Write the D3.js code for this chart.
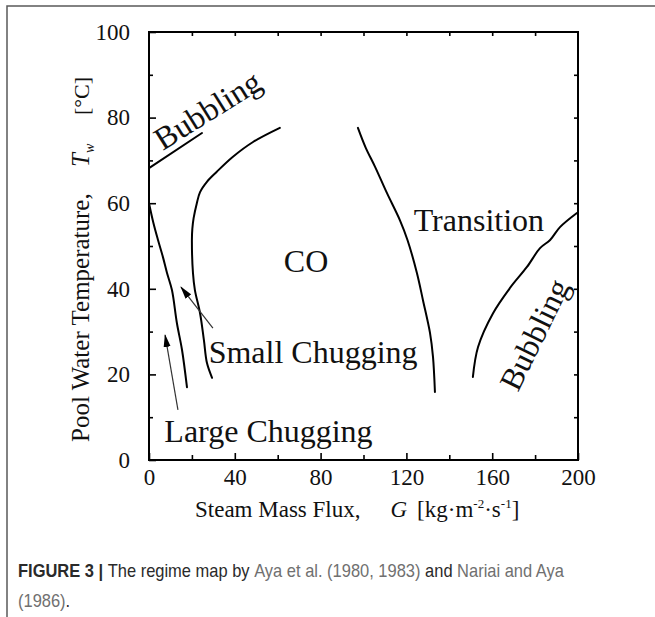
<!DOCTYPE html>
<html>
<head>
<meta charset="utf-8">
<script src="https://cdn.jsdelivr.net/npm/d3@7/dist/d3.min.js"></script>
<style>
  body { margin: 0; background: #fff; }
</style>
</head>
<body>
<div id="chart"></div>
<script>
// tick values
var xTicks = [0, 40, 80, 120, 160, 200];
var yTicks = [0, 20, 40, 60, 80, 100];

// regime boundaries, [G, Tw]
var bubblingLow = [[0, 68.2], [24.7, 76.4]];
var chugBoundary = [[0, 60], [2, 55.5], [4.2, 51.4], [6.5, 47.4], [8.4, 43.7], [10.7, 39.7],
    [13, 32], [15.4, 25.7], [17.7, 17]];
var coBoundary = [[29.4, 19.2], [27, 22.7], [25.6, 28], [23.8, 34.3], [21.4, 39.7], [20.5, 43.7],
    [20, 51.4], [20.2, 54], [20.8, 56.5], [22.3, 60], [23.8, 62.6], [27, 65], [31.5, 67.3],
    [39, 70.8], [48.5, 74.3], [61, 77.6]];
var transBoundary = [[97.4, 77.6], [101, 73], [105.4, 68.5], [110.9, 62.4], [117, 56],
    [120.5, 51.4], [124.9, 43.7], [127.7, 37.4], [131, 29.7], [132.4, 24.1], [133.3, 15.9]];
var bubblingHigh = [[151, 19.4], [153.4, 26.4], [160.4, 34.3], [168.3, 40.2], [176.2, 45.1],
    [182.3, 49.5], [187, 51.4], [191.6, 54.4], [199.5, 57.7]];

// arrows pointing at the chugging bands
var arrows = [
    {from: [13.5, 11.7], to: [7.5, 29.2]},
    {from: [29.8, 30.8], to: [14.9, 40.4]}
];

// regime names
var labels = [
    {text: "Bubbling", g: 30.0, t: 79.6, angle: -32},
    {text: "CO", g: 73.2, t: 43.9, angle: 0},
    {text: "Transition", g: 153.8, t: 53.5, angle: 0},
    {text: "Small Chugging", g: 76.5, t: 22.7, angle: 0},
    {text: "Large Chugging", g: 55.7, t: 4.2, angle: 0},
    {text: "Bubbling", g: 184.2, t: 28.2, angle: -64}
];

var width = 655,
    height = 617;

var serif = "'Liberation Serif', 'Times New Roman', serif",
    sans = "'Liberation Sans', Arial, sans-serif";

var svg = d3.select("#chart")
    .append("svg")
    .attr("width", width)
    .attr("height", height);

// outer figure box
svg.append("path")
    .attr("d", "M7,617V6H655")
    .attr("fill", "none")
    .attr("stroke", "#5a5a5a")
    .attr("stroke-width", 1.5);

var x = d3.scaleLinear().domain([0, 200]).range([149, 578]);
var y = d3.scaleLinear().domain([0, 100]).range([460, 32]);

// minor ticks
svg.append("g")
    .attr("transform", "translate(149,0)")
    .call(d3.axisLeft(y).tickValues(d3.range(10, 100, 20)).tickSize(-4).tickFormat(""));
svg.append("g")
    .attr("transform", "translate(0,460)")
    .call(d3.axisBottom(x).tickValues(d3.range(20, 200, 40)).tickSize(-5).tickFormat(""));
svg.append("g")
    .attr("transform", "translate(0,32)")
    .call(d3.axisTop(x).tickValues(d3.range(20, 200, 20)).tickSize(-4).tickFormat(""));
svg.append("g")
    .attr("transform", "translate(578,0)")
    .call(d3.axisRight(y).tickValues(d3.range(10, 100, 10)).tickSize(-4).tickFormat(""));

// major ticks with labels
var yAxis = svg.append("g")
    .attr("transform", "translate(149,0)")
    .call(d3.axisLeft(y).tickValues(yTicks).tickSizeInner(-7).tickSizeOuter(0).tickPadding(19));
var xAxis = svg.append("g")
    .attr("transform", "translate(0,460)")
    .call(d3.axisBottom(x).tickValues(xTicks).tickSizeInner(-7).tickSizeOuter(0).tickPadding(9));

svg.selectAll(".domain").remove();
svg.selectAll(".tick line").attr("stroke", "#000").attr("stroke-width", 1.6);
[xAxis, yAxis].forEach(function(a) {
    a.selectAll("text")
        .attr("font-family", serif)
        .attr("font-size", 23)
        .attr("fill", "#111");
});

// frame
svg.append("rect")
    .attr("x", x(0))
    .attr("y", y(100))
    .attr("width", x(200) - x(0))
    .attr("height", y(0) - y(100))
    .attr("fill", "none")
    .attr("stroke", "#000")
    .attr("stroke-width", 2);

// boundary curves
var line = d3.line()
    .x(function(d) { return x(d[0]); })
    .y(function(d) { return y(d[1]); })
    .curve(d3.curveCatmullRom);

[bubblingLow, chugBoundary, coBoundary, transBoundary, bubblingHigh].forEach(function(pts) {
    svg.append("path")
        .datum(pts)
        .attr("d", line)
        .attr("fill", "none")
        .attr("stroke", "#000")
        .attr("stroke-width", 2)
        .attr("stroke-linejoin", "round")
        .attr("stroke-linecap", "round");
});

// arrows
svg.append("defs").append("marker")
    .attr("id", "head")
    .attr("markerUnits", "userSpaceOnUse")
    .attr("viewBox", "0 -4 13 8")
    .attr("refX", 12)
    .attr("refY", 0)
    .attr("markerWidth", 13)
    .attr("markerHeight", 8)
    .attr("orient", "auto")
    .append("path")
    .attr("d", "M0,-3.5L13,0L0,3.5Z")
    .attr("fill", "#000");

svg.selectAll(".arrow")
    .data(arrows)
    .enter().append("line")
    .attr("class", "arrow")
    .attr("x1", function(d) { return x(d.from[0]); })
    .attr("y1", function(d) { return y(d.from[1]); })
    .attr("x2", function(d) { return x(d.to[0]); })
    .attr("y2", function(d) { return y(d.to[1]); })
    .attr("stroke", "#333")
    .attr("stroke-width", 1.2)
    .attr("marker-end", "url(#head)");

// regime labels
svg.selectAll(".regime")
    .data(labels)
    .enter().append("text")
    .attr("class", "regime")
    .attr("transform", function(d) {
        return "translate(" + x(d.g) + "," + y(d.t) + ") rotate(" + d.angle + ")";
    })
    .attr("text-anchor", "middle")
    .attr("font-family", serif)
    .attr("font-size", 32)
    .attr("fill", "#111")
    .text(function(d) { return d.text; });

// x axis title
var xt = svg.append("text")
    .attr("x", 195)
    .attr("y", 517)
    .attr("font-family", serif)
    .attr("font-size", 23)
    .attr("fill", "#111");
xt.append("tspan").text("Steam Mass Flux,");
xt.append("tspan").attr("dx", 30).attr("font-style", "italic").text("G");
xt.append("tspan").attr("dx", 10).text("[kg·m");
xt.append("tspan").attr("dy", -9).attr("font-size", 13).text("-2");
xt.append("tspan").attr("dy", 9).text("·s");
xt.append("tspan").attr("dy", -9).attr("font-size", 13).text("-1");
xt.append("tspan").attr("dy", 9).text("]");

// y axis title
var yt = svg.append("g")
    .attr("transform", "translate(89,442) rotate(-90)")
    .attr("font-family", serif)
    .attr("fill", "#111");
yt.append("text").attr("x", 0).attr("font-size", 25).text("Pool Water Temperature,");
var tw = yt.append("text").attr("x", 275).attr("font-size", 25).attr("font-style", "italic");
tw.append("tspan").text("T");
tw.append("tspan").attr("dy", 5).attr("font-size", 14).text("w");
yt.append("text").attr("x", 327).attr("font-size", 22).text("[°C]");

// caption, set in a narrowed sans to match the journal face
var capG = svg.append("g")
    .attr("transform", "translate(18,0) scale(0.915,1)")
    .attr("font-family", sans)
    .attr("font-size", 18)
    .attr("fill", "#2a2a2a");
var cap = capG.append("text").attr("x", 0).attr("y", 577);
cap.append("tspan").attr("font-weight", "bold").text("FIGURE 3 | ");
cap.append("tspan").text("The regime map by ");
cap.append("tspan").attr("fill", "#707070").text("Aya et al. (1980, 1983)");
cap.append("tspan").text(" and ");
cap.append("tspan").attr("fill", "#707070").text("Nariai and Aya");

var cap2 = capG.append("text").attr("x", 0).attr("y", 607);
cap2.append("tspan").attr("fill", "#707070").text("(1986)");
cap2.append("tspan").text(".");
</script>
</body>
</html>
